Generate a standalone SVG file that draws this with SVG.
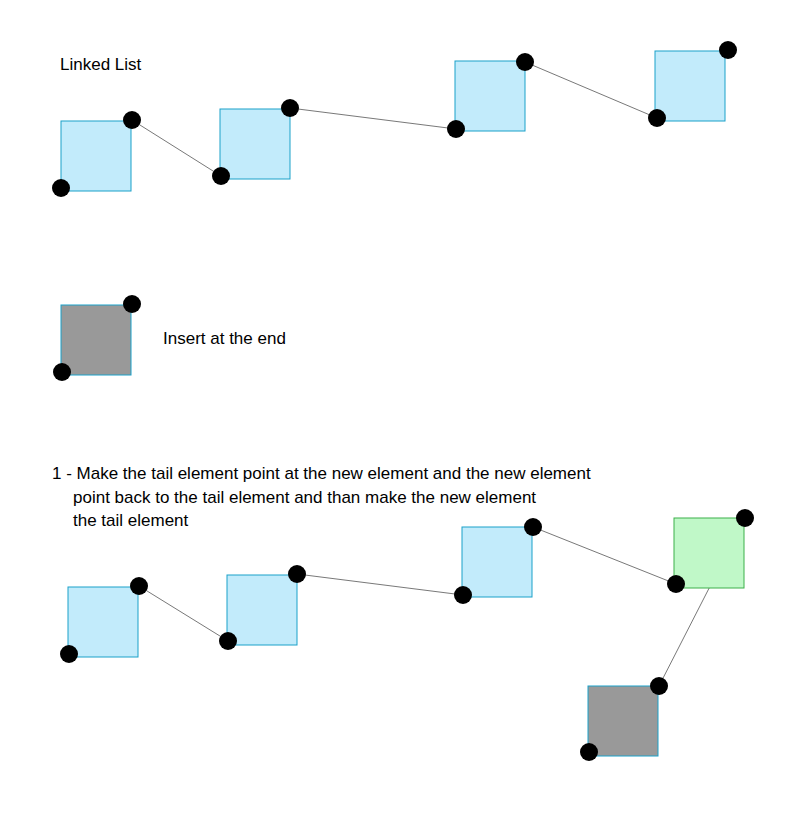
<svg xmlns="http://www.w3.org/2000/svg" width="791" height="821" viewBox="0 0 791 821">
<style>
.b{fill:#c2ebfb;stroke:#1ba1c9;stroke-width:1}
.g{fill:#999;stroke:#1ba1c9;stroke-width:1}
.n{fill:#c0f8c8;stroke:#3cb04a;stroke-width:1}
.d{fill:#000}
.c line{stroke:#555;stroke-width:0.8}
text{font-family:"Helvetica","Liberation Sans",Arial,sans-serif;font-size:17px;fill:#000}
</style>
<rect width="791" height="821" fill="#fff"/>
<text x="60" y="70">Linked List</text>
<text x="163" y="344">Insert at the end</text>
<text x="52" y="479">1 - Make the tail element point at the new element and the new element</text>
<text x="73" y="503">point back to the tail element and than make the new element</text>
<text x="73" y="526">the tail element</text>
<g class="c">
<line x1="132" y1="120" x2="221" y2="176"/>
<line x1="290" y1="108" x2="456" y2="129"/>
<line x1="525" y1="62" x2="657" y2="118"/>
<line x1="139" y1="586" x2="228" y2="641"/>
<line x1="297" y1="574" x2="463" y2="595"/>
<line x1="533" y1="527" x2="676" y2="584"/>
<line x1="745" y1="518" x2="659" y2="686"/>
</g>
<g id="n1"><rect class="b" x="61" y="121" width="70" height="70"/><circle class="d" cx="132" cy="120" r="9"/><circle class="d" cx="61" cy="188" r="9"/></g>
<g id="n2"><rect class="b" x="220" y="109" width="70" height="70"/><circle class="d" cx="290" cy="108" r="9"/><circle class="d" cx="221" cy="176" r="9"/></g>
<g id="n3"><rect class="b" x="455" y="61" width="70" height="70"/><circle class="d" cx="525" cy="62" r="9"/><circle class="d" cx="456" cy="129" r="9"/></g>
<g id="n4"><rect class="b" x="655" y="51" width="70" height="70"/><circle class="d" cx="728" cy="50" r="9"/><circle class="d" cx="657" cy="118" r="9"/></g>
<g id="ins"><rect class="g" x="61" y="305" width="70" height="70"/><circle class="d" cx="132" cy="304" r="9"/><circle class="d" cx="62" cy="372" r="9"/></g>
<g id="m1"><rect class="b" x="68" y="587" width="70" height="70"/><circle class="d" cx="139" cy="586" r="9"/><circle class="d" cx="69" cy="654" r="9"/></g>
<g id="m2"><rect class="b" x="227" y="575" width="70" height="70"/><circle class="d" cx="297" cy="574" r="9"/><circle class="d" cx="228" cy="641" r="9"/></g>
<g id="m3"><rect class="b" x="462" y="527" width="70" height="70"/><circle class="d" cx="533" cy="527" r="9"/><circle class="d" cx="463" cy="595" r="9"/></g>
<g id="m4"><rect class="n" x="674" y="518" width="70" height="70"/><circle class="d" cx="745" cy="518" r="9"/><circle class="d" cx="676" cy="584" r="9"/></g>
<g id="m5"><rect class="g" x="588" y="686" width="70" height="70"/><circle class="d" cx="659" cy="686" r="9"/><circle class="d" cx="589" cy="752" r="9"/></g>
</svg>
